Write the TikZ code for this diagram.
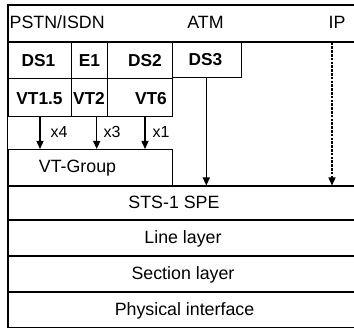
\documentclass[tikz,border=0pt]{standalone}
\usepackage{fontspec}
\setmainfont{Liberation Sans}
\usetikzlibrary{arrows.meta}
\tikzset{
  bigbox/.style={draw=black, line width=1.7pt, inner sep=0pt, anchor=north west},
  smallbox/.style={draw=black, line width=1.2pt, inner sep=0pt, anchor=north west},
  txt/.style={inner sep=0pt, font=\fontsize{17.8}{20}\selectfont, text height=12.6pt, text depth=0pt, anchor=center},
  btxt/.style={inner sep=0pt, font=\fontsize{17.3}{20}\selectfont\bfseries, text height=12.3pt, text depth=0pt, anchor=center},
  mtxt/.style={inner sep=0pt, font=\fontsize{16}{18}\selectfont, text height=11.4pt, text depth=0pt, anchor=center},
  arr/.style={line width=1.3pt, -{Triangle[length=8pt,width=7pt]}},
  darr/.style={line width=1.3pt, dash pattern=on 2.5pt off 1.3pt, -{Triangle[length=8pt,width=7pt]}}
}
\begin{document}
\begin{tikzpicture}[x=1pt,y=-1pt]
\clip (0,0) rectangle (354,328);
\fill[white] (0,0) rectangle (354,328);
% top row
\node[bigbox, minimum width=352.5pt, minimum height=37pt] (top) at (7.5,4) {};
\node[txt, anchor=west] (pstn) at (9.5,22.5) {PSTN/ISDN};
\node[txt] (atm) at (205.5,22.5) {ATM};
\node[txt] (ip) at (337,22.5) {IP};
% DS row
\node[smallbox, minimum width=63.2pt, minimum height=37pt] (ds1) at (7.5,41) {};
\node[smallbox, minimum width=36.3pt, minimum height=37pt] (e1) at (70.7,41) {};
\node[smallbox, minimum width=64.7pt, minimum height=37pt] (ds2) at (107,41) {};
\node[smallbox, minimum width=69.3pt, minimum height=36pt] (ds3) at (171.7,41) {};
\node[btxt] (tds1) at (38.5,60) {DS1};
\node[btxt] (te1) at (89.5,60) {E1};
\node[btxt] (tds2) at (145,60) {DS2};
\node[btxt] (tds3) at (205.5,59.5) {DS3};
% VT row
\node[smallbox, minimum width=63.2pt, minimum height=38pt] (vt15) at (7.5,78) {};
\node[smallbox, minimum width=36.3pt, minimum height=38pt] (vt2) at (70.7,78) {};
\node[smallbox, minimum width=64.7pt, minimum height=38pt] (vt6) at (107,78) {};
\node[btxt] (tvt15) at (39.5,98) {VT1.5};
\node[btxt] (tvt2) at (89,98) {VT2};
\node[btxt] (tvt6) at (151,98) {VT6};
% VT group
\node[smallbox, minimum width=164.2pt, minimum height=36.5pt] (vtg) at (7.5,149) {};
\node[txt] (tvtg) at (77.5,166.5) {VT-Group};
% layers
\node[bigbox, minimum width=352.5pt, minimum height=33.5pt] (sts) at (7.5,185.5) {};
\node[bigbox, minimum width=352.5pt, minimum height=36pt] (line) at (7.5,219) {};
\node[bigbox, minimum width=352.5pt, minimum height=36.5pt] (sect) at (7.5,255) {};
\node[bigbox, minimum width=352.5pt, minimum height=36pt] (phys) at (7.5,291.5) {};
\node[txt] (tsts) at (174,202.3) {STS-1 SPE};
\node[txt] (tline) at (183,237) {Line layer};
\node[txt] (tsect) at (183,273.3) {Section layer};
\node[txt] (tphys) at (184.5,309.5) {Physical interface};
% left border
\draw[line width=1.7pt] (top.north west) -- (phys.south west);
% arrows
\coordinate (a4) at (40,0);
\coordinate (a3) at (96.7,0);
\coordinate (a1) at (145,0);
\coordinate (a3x) at (206.3,0);
\coordinate (aip) at (332,0);
\draw[arr] (vt15.south -| a4) -- (vtg.north -| a4);
\draw[arr] (vt2.south -| a3) -- (vtg.north -| a3);
\draw[arr] (vt6.south -| a1) -- (vtg.north -| a1);
\draw[arr] (ds3.south -| a3x) -- (sts.north -| a3x);
\draw[darr] (top.south -| aip) -- (sts.north -| aip);
\node[mtxt] (x4) at (59,132) {x4};
\node[mtxt] (x3) at (112,132) {x3};
\node[mtxt] (x1) at (161,132) {x1};
\end{tikzpicture}
\end{document}
